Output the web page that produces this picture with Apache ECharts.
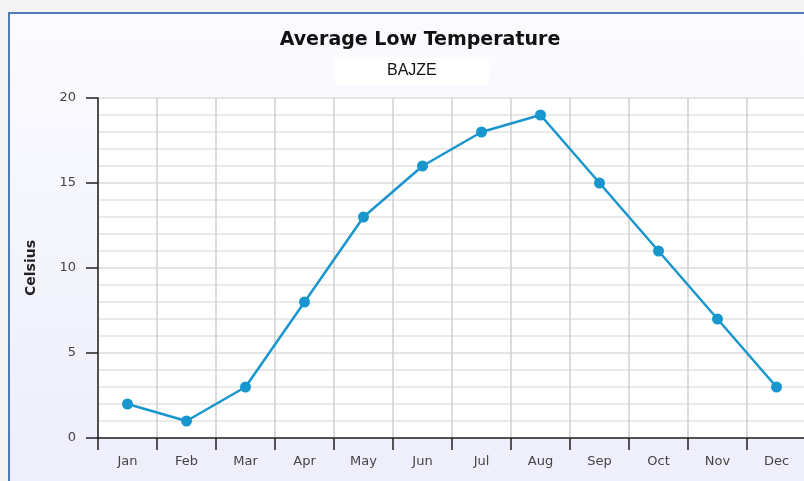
<!DOCTYPE html>
<html>
<head>
<meta charset="utf-8">
<script src="https://cdn.jsdelivr.net/npm/echarts@6/dist/echarts.min.js"></script>
<style>
  html, body { margin: 0; padding: 0; background: #f4f4f4; overflow: hidden; }
  #frame {
    position: absolute; left: 8px; top: 12px; width: 796px; height: 469px;
    box-sizing: border-box; overflow: hidden;
    border-left: 2px solid #4f7cb4; border-top: 2px solid #4f7cb4;
    background: linear-gradient(to bottom, #fbfbff 0%, #eeeefc 100%);
  }
  #chart { width: 804px; height: 467px; }
</style>
</head>
<body>
<div id="frame"><div id="chart"></div></div>
<script>
var months = ["Jan", "Feb", "Mar", "Apr", "May", "Jun", "Jul", "Aug", "Sep", "Oct", "Nov", "Dec"];
var lowTemps = [2, 1, 3, 8, 13, 16, 18, 19, 15, 11, 7, 3];
var yTicks = [0, 5, 10, 15, 20];

var chart = echarts.init(document.getElementById("chart"));

var option = {
  animation: false,
  title: [
    {
      text: "Average Low Temperature",
      left: 405,
      top: 12,
      textAlign: "center",
      textStyle: { fontFamily: "DejaVu Sans", fontSize: 19, fontWeight: "bold", color: "#111" }
    },
    {
      text: "BAJZE",
      left: 325,
      top: 43,
      padding: [6, 52, 6, 52],
      backgroundColor: "#ffffff",
      textStyle: { fontFamily: "Liberation Sans", fontSize: 16, fontWeight: "normal", color: "#111" }
    }
  ],
  grid: {
    left: 88,
    right: 8,
    top: 84,
    bottom: 43,
    show: true,
    backgroundColor: "#ffffff",
    borderWidth: 0
  },
  xAxis: {
    type: "category",
    data: months,
    boundaryGap: true,
    axisLine: { lineStyle: { color: "#222", width: 1.5 } },
    axisTick: { show: true, length: 12, lineStyle: { color: "#222", width: 1.5 } },
    axisLabel: { margin: 17, fontFamily: "DejaVu Sans", fontSize: 13, color: "#444" },
    splitLine: { show: true, lineStyle: { color: "#cfcfcf", width: 1.5 } }
  },
  yAxis: {
    type: "value",
    min: yTicks[0],
    max: yTicks[yTicks.length - 1],
    interval: 5,
    name: "Celsius",
    nameLocation: "middle",
    nameGap: 60,
    nameTextStyle: { fontFamily: "DejaVu Sans", fontSize: 14, fontWeight: "bold", color: "#222" },
    axisLine: { show: true, lineStyle: { color: "#222", width: 1.5 } },
    axisTick: { show: true, length: 12, lineStyle: { color: "#222", width: 1.5 } },
    axisLabel: { margin: 22, fontFamily: "DejaVu Sans", fontSize: 13, color: "#444" },
    splitLine: { show: true, lineStyle: { color: "#dcdcdc", width: 1.5 } },
    minorTick: { show: false, splitNumber: 5 },
    minorSplitLine: { show: true, lineStyle: { color: "#e2e2e2", width: 1.5 } }
  },
  series: [
    {
      name: "BAJZE",
      type: "line",
      data: lowTemps,
      symbol: "circle",
      symbolSize: 11,
      itemStyle: { color: "#1a96cf" },
      lineStyle: { color: "#1a96cf", width: 2.5 }
    }
  ]
};

chart.setOption(option);
window.onresize = function () { chart.resize(); };
</script>
</body>
</html>
